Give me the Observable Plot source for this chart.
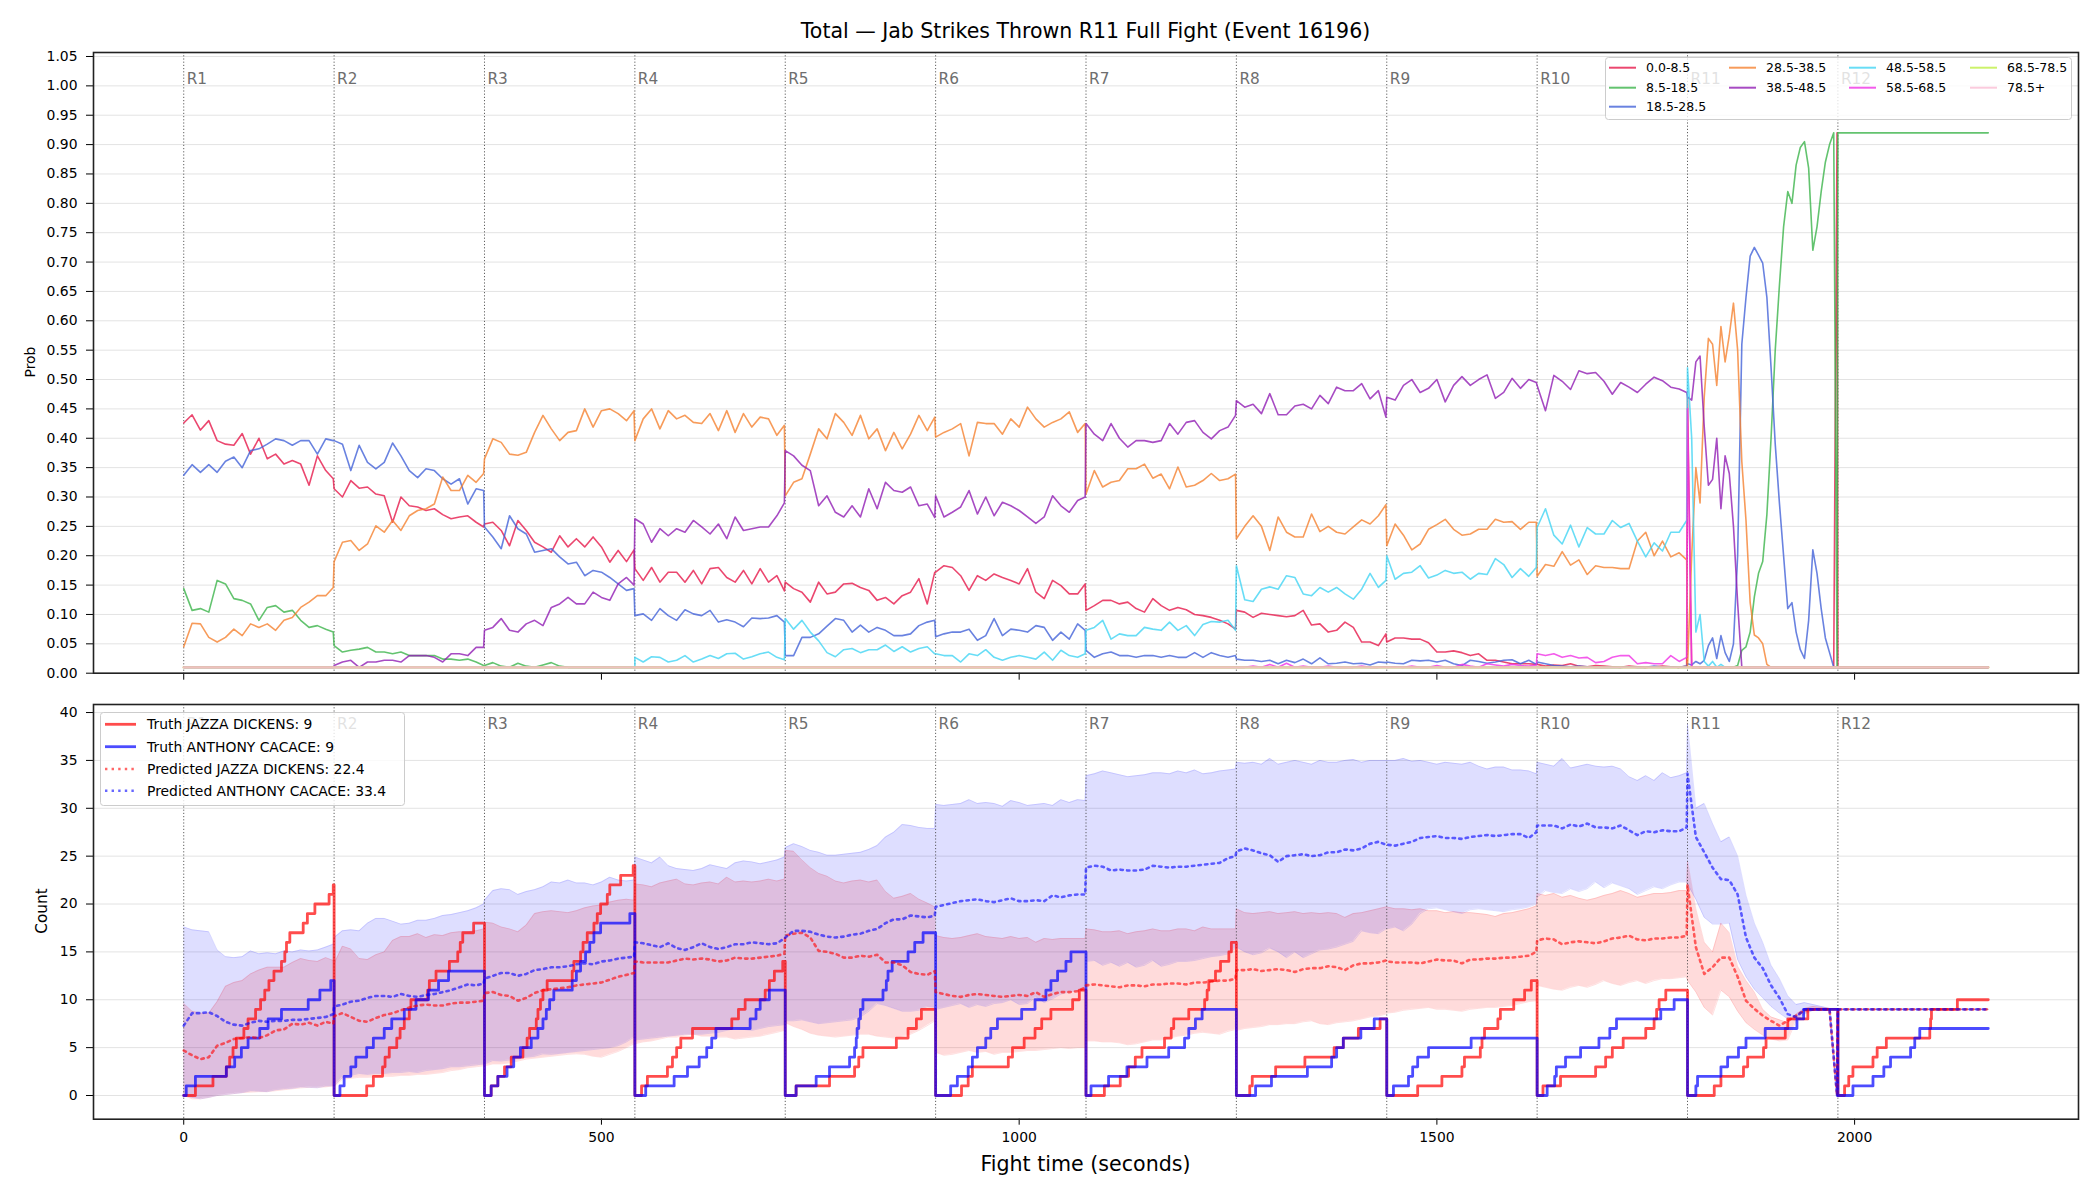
<!DOCTYPE html>
<html><head><meta charset="utf-8">
<script src="https://cdn.jsdelivr.net/npm/d3@7"></script>
<script src="https://cdn.jsdelivr.net/npm/@observablehq/plot@0.6"></script>
<style>
body{margin:0;background:#fff;}
#fig{position:relative;width:2100px;height:1200px;background:#fff;font-family:"DejaVu Sans",sans-serif;overflow:hidden;}
.abs{position:absolute;white-space:nowrap;color:#000;}
#fig svg{position:absolute;overflow:visible;}
</style></head><body><div id="fig"></div>
<script>
// ---------- shared ----------
const ROUND_STARTS = [0,180,360,540,720,900,1080,1260,1440,1620,1800,1980];
const ROUND_LABELS = ["R1","R2","R3","R4","R5","R6","R7","R8","R9","R10","R11","R12"];
const FIGHT_END = 2160;
const OFFS_10 = [0,10,20,30,40,50,60,70,80,90,100,110,120,130,140,150,160,170,179];
const OFFS_5 = [0,5,10,15,20,25,30,35,40,45,50,55,60,65,70,75,80,85,90,95,100,105,110,115,120,125,130,135,140,145,150,155,160,165,170,175,179];
const OFFS_FLAT = [0,180];
const X_TICKS = [0,500,1000,1500,2000];
const TOP_Y_TICKS = [0,0.05,0.1,0.15,0.2,0.25,0.3,0.35,0.4,0.45,0.5,0.55,0.6,0.65,0.7,0.75,0.8,0.85,0.9,0.95,1.0,1.05];
const BOT_Y_TICKS = [0,5,10,15,20,25,30,35,40];

// ---------- top panel: probability per bin (one array per round) ----------
const BIN_LABELS = ["0.0-8.5","8.5-18.5","18.5-28.5","28.5-38.5","38.5-48.5","48.5-58.5","58.5-68.5","68.5-78.5","78.5+"];
const BIN_COLORS = ["#e6194B","#3cb44b","#4363d8","#f58231","#911eb4","#42d4f4","#f032e6","#bfef45","#fabed4"];

const BIN_0_8 = [
 [0.426,0.44,0.414,0.43,0.396,0.39,0.388,0.408,0.373,0.40,0.365,0.373,0.356,0.362,0.356,0.32,0.37,0.345,0.331],
 [0.314,0.30,0.328,0.315,0.317,0.305,0.302,0.257,0.30,0.285,0.283,0.277,0.28,0.27,0.263,0.266,0.268,0.257,0.249],
 [0.254,0.257,0.243,0.217,0.26,0.243,0.223,0.215,0.206,0.234,0.215,0.229,0.215,0.232,0.215,0.189,0.209,0.19,0.21],
 [0.178,0.158,0.18,0.155,0.172,0.172,0.155,0.175,0.152,0.178,0.18,0.163,0.155,0.175,0.152,0.178,0.155,0.166,0.14],
 [0.155,0.144,0.138,0.121,0.155,0.135,0.138,0.152,0.153,0.146,0.141,0.124,0.129,0.118,0.132,0.138,0.161,0.118,0.172],
 [0.172,0.183,0.18,0.166,0.141,0.166,0.158,0.169,0.163,0.158,0.152,0.178,0.138,0.127,0.158,0.149,0.135,0.135,0.152],
 [0.107,0.115,0.124,0.124,0.118,0.121,0.11,0.104,0.127,0.115,0.107,0.112,0.108,0.1,0.098,0.095,0.09,0.084,0.075],
 [0.107,0.104,0.095,0.102,0.1,0.098,0.096,0.098,0.107,0.082,0.084,0.07,0.073,0.087,0.078,0.053,0.053,0.047,0.067],
 [0.053,0.06,0.06,0.058,0.058,0.052,0.036,0.036,0.038,0.035,0.03,0.033,0.022,0.022,0.019,0.016,0.016,0.016,0.015],
 [0.015,0.012,0.014,0.013,0.016,0.012,0.011,0.013,0.012,0.011,0.01,0.012,0.011,0.01,0.011,0.012,0.011,0.01,0.012],
 [0.47,
  0.01,0.01,0.01,0.01,0.01, 0.01,0.01,0.01,0.01,0.01, 0.01,0.01,0.01,0.01,0.01, 0.01,0.01,0.01,0.01,0.01,
  0.01,0.01,0.01,0.01,0.01, 0.01,0.01,0.01,0.01,0.01, 0.01,0.01,0.01,0.01,0.01,
  0.92],
 [0.01,0.01]
];
const BIN_8_18 = [
 [0.144,0.107,0.11,0.104,0.158,0.152,0.127,0.124,0.118,0.09,0.112,0.115,0.104,0.107,0.09,0.078,0.081,0.075,0.07],
 [0.047,0.036,0.039,0.041,0.044,0.036,0.036,0.033,0.036,0.03,0.03,0.03,0.03,0.024,0.024,0.022,0.024,0.019,0.013],
 [0.013,0.018,0.012,0.01,0.017,0.012,0.01,0.014,0.018,0.012,0.01,0.01,0.01,0.01,0.01,0.01,0.01,0.01,0.01],
 [0.01,0.01],[0.01,0.01],[0.01,0.01],[0.01,0.01],[0.01,0.01],[0.01,0.01],[0.01,0.01],
 [0.01,0.01,0.01,0.01,0.01, 0.01,0.01,0.01,0.01,0.01, 0.01,0.01,
  0.013,0.039,0.045,0.07,0.13,0.17,0.19,0.27,0.4,0.55,0.66,0.76,0.82,0.8,0.865,0.895,0.905,0.86,0.72,0.76,0.82,0.87,0.9,0.92,0.01],
 [0.92,0.92]
];
const BIN_18_28 = [
 [0.337,0.355,0.342,0.355,0.342,0.361,0.368,0.35,0.379,0.382,0.39,0.399,0.396,0.388,0.396,0.396,0.373,0.399,0.396],
 [0.396,0.39,0.345,0.388,0.359,0.348,0.359,0.392,0.37,0.345,0.333,0.348,0.345,0.331,0.322,0.331,0.288,0.314,0.311],
 [0.249,0.232,0.212,0.268,0.246,0.237,0.206,0.209,0.212,0.198,0.186,0.189,0.166,0.175,0.172,0.163,0.152,0.141,0.144],
 [0.098,0.101,0.09,0.11,0.098,0.09,0.108,0.101,0.098,0.107,0.087,0.091,0.087,0.079,0.094,0.093,0.094,0.098,0.087],
 [0.03,0.03,0.061,0.061,0.067,0.08,0.093,0.09,0.07,0.082,0.07,0.078,0.073,0.064,0.064,0.067,0.081,0.087,0.09],
 [0.062,0.067,0.07,0.07,0.075,0.056,0.064,0.093,0.064,0.075,0.073,0.07,0.081,0.078,0.056,0.07,0.058,0.084,0.073],
 [0.039,0.027,0.033,0.036,0.03,0.03,0.027,0.03,0.03,0.027,0.03,0.027,0.027,0.035,0.027,0.035,0.03,0.027,0.03],
 [0.024,0.022,0.022,0.02,0.022,0.016,0.022,0.018,0.024,0.016,0.026,0.016,0.017,0.019,0.016,0.017,0.014,0.019,0.018],
 [0.019,0.017,0.016,0.022,0.021,0.022,0.019,0.022,0.016,0.013,0.022,0.02,0.017,0.019,0.022,0.023,0.016,0.022,0.015],
 [0.019,0.016,0.013,0.012,0.011,0.012,0.011,0.01,0.01,0.01,0.01,0.011,0.01,0.01,0.012,0.01,0.011,0.01,0.012],
 [0.016,0.014,0.02,0.016,0.022,0.047,0.06,0.025,0.064,0.035,0.02,0.05,0.2,0.56,0.64,0.71,0.725,0.712,0.698,0.64,0.52,0.39,0.29,0.2,0.11,0.12,0.07,0.04,0.025,0.09,0.21,0.17,0.11,0.06,0.035,0.01,0.01],
 [0.01,0.01]
];
const BIN_28_38 = [
 [0.045,0.085,0.084,0.061,0.053,0.061,0.075,0.064,0.084,0.078,0.084,0.073,0.09,0.095,0.112,0.121,0.132,0.132,0.146],
 [0.19,0.223,0.226,0.209,0.22,0.251,0.24,0.26,0.243,0.268,0.277,0.28,0.288,0.334,0.311,0.311,0.337,0.325,0.34],
 [0.365,0.399,0.393,0.373,0.371,0.376,0.41,0.439,0.416,0.396,0.41,0.413,0.45,0.419,0.447,0.45,0.442,0.43,0.447],
 [0.396,0.433,0.45,0.416,0.447,0.433,0.439,0.427,0.425,0.442,0.413,0.447,0.41,0.442,0.419,0.436,0.433,0.405,0.422],
 [0.302,0.325,0.331,0.373,0.416,0.399,0.442,0.427,0.405,0.439,0.399,0.416,0.379,0.41,0.382,0.407,0.439,0.413,0.436],
 [0.402,0.41,0.416,0.425,0.37,0.427,0.425,0.425,0.407,0.433,0.419,0.453,0.433,0.419,0.427,0.433,0.445,0.41,0.425],
 [0.305,0.345,0.317,0.325,0.328,0.348,0.348,0.356,0.332,0.339,0.314,0.351,0.317,0.32,0.328,0.34,0.328,0.331,0.339],
 [0.229,0.25,0.268,0.25,0.209,0.266,0.24,0.232,0.232,0.271,0.241,0.25,0.24,0.237,0.249,0.261,0.254,0.268,0.287],
 [0.217,0.254,0.235,0.21,0.22,0.245,0.253,0.262,0.245,0.235,0.237,0.245,0.245,0.262,0.257,0.258,0.245,0.257,0.257],
 [0.165,0.185,0.182,0.207,0.184,0.193,0.168,0.183,0.18,0.18,0.178,0.178,0.225,0.24,0.2,0.225,0.198,0.205,0.193],
 [0.01,0.2,0.35,0.29,0.47,0.57,0.56,0.49,0.59,0.53,0.575,0.63,0.55,0.36,0.26,0.12,0.065,0.06,0.05,0.015,
  0.01,0.01,0.01,0.01,0.01, 0.01,0.01,0.01,0.01,0.01, 0.01,0.01,0.01,0.01,0.01, 0.01,0.01],
 [0.01,0.01]
];
const BIN_38_48 = [
 [0.01,0.01],
 [0.013,0.019,0.022,0.01,0.019,0.019,0.022,0.022,0.019,0.03,0.03,0.03,0.027,0.019,0.033,0.033,0.03,0.044,0.044],
 [0.073,0.078,0.093,0.073,0.07,0.084,0.09,0.081,0.112,0.118,0.129,0.118,0.118,0.138,0.129,0.124,0.152,0.163,0.15],
 [0.263,0.254,0.223,0.246,0.234,0.246,0.24,0.26,0.249,0.237,0.254,0.229,0.266,0.243,0.246,0.249,0.249,0.268,0.29],
 [0.379,0.37,0.354,0.345,0.285,0.302,0.274,0.266,0.285,0.266,0.314,0.28,0.325,0.311,0.308,0.317,0.285,0.288,0.265],
 [0.302,0.266,0.274,0.283,0.311,0.271,0.3,0.268,0.291,0.285,0.277,0.266,0.255,0.266,0.302,0.285,0.274,0.294,0.3],
 [0.425,0.407,0.396,0.425,0.40,0.385,0.396,0.396,0.393,0.396,0.425,0.407,0.427,0.43,0.41,0.399,0.413,0.419,0.439],
 [0.464,0.453,0.458,0.442,0.476,0.44,0.44,0.455,0.458,0.45,0.473,0.459,0.487,0.481,0.481,0.493,0.467,0.481,0.436],
 [0.47,0.465,0.49,0.5,0.478,0.485,0.5,0.462,0.49,0.505,0.49,0.5,0.508,0.468,0.478,0.502,0.485,0.5,0.495],
 [0.49,0.447,0.507,0.497,0.483,0.515,0.51,0.512,0.497,0.475,0.495,0.487,0.478,0.492,0.504,0.498,0.487,0.484,0.478],
 [0.47,0.465,0.53,0.54,0.42,0.32,0.33,0.40,0.28,0.37,0.34,0.25,0.12,0.01,
  0.01,0.01,0.01,0.01,0.01, 0.01,0.01,0.01,0.01,0.01, 0.01,0.01,0.01,0.01,0.01, 0.01,0.01,0.01,0.01,0.01, 0.01,0.01,0.01],
 [0.01,0.01]
];
const BIN_48_58 = [
 [0.01,0.01],[0.01,0.01],[0.01,0.01],
 [0.027,0.019,0.028,0.027,0.019,0.022,0.03,0.019,0.024,0.03,0.025,0.033,0.034,0.024,0.028,0.033,0.036,0.027,0.023],
 [0.093,0.075,0.09,0.07,0.055,0.035,0.028,0.04,0.042,0.035,0.04,0.04,0.048,0.037,0.045,0.036,0.042,0.045,0.033],
 [0.033,0.03,0.03,0.019,0.033,0.03,0.04,0.027,0.022,0.027,0.03,0.027,0.024,0.036,0.022,0.039,0.03,0.027,0.033],
 [0.073,0.078,0.09,0.058,0.067,0.064,0.064,0.078,0.075,0.073,0.087,0.073,0.081,0.064,0.083,0.088,0.087,0.09,0.073],
 [0.183,0.125,0.122,0.143,0.147,0.143,0.166,0.163,0.135,0.132,0.146,0.138,0.146,0.135,0.126,0.143,0.17,0.146,0.158],
 [0.2,0.16,0.17,0.172,0.183,0.162,0.167,0.175,0.17,0.172,0.16,0.17,0.168,0.195,0.185,0.163,0.178,0.165,0.18],
 [0.248,0.28,0.235,0.22,0.252,0.215,0.248,0.237,0.237,0.26,0.248,0.255,0.225,0.198,0.222,0.208,0.24,0.24,0.26],
 [0.52,0.4,0.07,0.1,0.02,0.012,0.02,0.01,0.015,
  0.01,0.01,0.01,0.01,0.01, 0.01,0.01,0.01,0.01,0.01, 0.01,0.01,0.01,0.01,0.01, 0.01,0.01,0.01,0.01,0.01,
  0.01,0.01,0.01,0.01,0.01, 0.01,0.01,0.01],
 [0.01,0.01]
];
const BIN_58_68 = [
 [0.01,0.01],[0.01,0.01],[0.01,0.01],[0.01,0.01],[0.01,0.01],[0.01,0.01],[0.01,0.01],
 [0.01,0.01,0.012,0.01,0.015,0.01,0.017,0.01,0.012,0.01,0.01,0.012,0.01,0.01,0.01,0.012,0.01,0.01,0.011],
 [0.01,0.011,0.01,0.012,0.01,0.01,0.013,0.01,0.01,0.015,0.012,0.01,0.016,0.014,0.012,0.015,0.013,0.012,0.014],
 [0.033,0.03,0.033,0.027,0.03,0.026,0.027,0.018,0.02,0.027,0.03,0.03,0.016,0.018,0.016,0.016,0.03,0.02,0.027],
 [0.45,
  0.01,0.01,0.01,0.01,0.01, 0.01,0.01,0.01,0.01,0.01, 0.01,0.01,0.01,0.01,0.01, 0.01,0.01,0.01,0.01,0.01,
  0.01,0.01,0.01,0.01,0.01, 0.01,0.01,0.01,0.01,0.01, 0.01,0.01,0.01,0.01,0.01, 0.01],
 [0.01,0.01]
];
const BIN_68_78 = [[0.01,0.01],[0.01,0.01],[0.01,0.01],[0.01,0.01],[0.01,0.01],[0.01,0.01],[0.01,0.01],[0.01,0.01],[0.01,0.01],[0.01,0.01],[0.01,0.01],[0.01,0.01]];
const BIN_78_UP = [[0.01,0.01],[0.01,0.01],[0.01,0.01],[0.01,0.01],[0.01,0.01],[0.01,0.01],[0.01,0.01],[0.01,0.01],[0.01,0.01],[0.01,0.01],[0.01,0.01],[0.01,0.01]];

// ---------- bottom panel ----------
const FIGHTER_RED = "JAZZA DICKENS";
const FIGHTER_BLUE = "ANTHONY CACACE";
const LEGEND_TRUTH_RED = 9, LEGEND_TRUTH_BLUE = 9, LEGEND_PRED_RED = 22.4, LEGEND_PRED_BLUE = 33.4;

// jab times (seconds into each round) — truth counts
const RED_JABS = [
 [14,35,51,55,59,63,72,77,86,92,97,102,108,117,121,123,127,143,148,157,174,179],
 [39,47,58,61,66,75,79,84,90,92,112,114,122,138,148,151,154,167],
 [8,16,24,32,46,51,54,62,64,67,70,75,105,107,115,118,123,131,135,139,147,150,163,178],
 [8,15,39,45,50,55,69,116,124,132,156,161,167,177],
 [13,53,83,88,93,133,147,157,163],
 [31,39,44,87,92,106,119,127,138,164,172],
 [22,41,51,59,67,94,102,105,123,142,145,147,155,161,171,174],
 [16,19,47,82,117,128,146,172],
 [37,66,90,93,112,114,117,133,136,152,165,173],
 [7,28,70,82,90,103,130,140,143,146,154],
 [32,40,67,72,91,94,117,120,144],
 [8,13,18,42,47,58,110,111,112,143]
];
const BLUE_JABS = [
 [3,14,51,61,69,77,91,101,117,149,163,176],
 [7,12,20,26,39,47,60,69,84,98,113,125,137],
 [8,16,27,35,43,56,64,70,74,78,83,105,110,115,121,126,131,139,174],
 [13,47,63,77,86,92,97,138,145,150,161],
 [13,37,53,77,83,85,86,88,90,93,117,121,123,128,147,155,165],
 [18,26,39,44,50,60,66,74,103,119,132,138,146,156,162],
 [6,27,49,73,99,118,123,131,139],
 [23,42,85,114,120,128,149,165],
 [8,26,31,37,50,101],
 [12,21,23,34,52,74,87,95,148,164],
 [10,12,40,48,61,70,93,131,139],
 [18,42,55,63,87,92,98]
];

const PRED_RED = [
 [4.7,4.2,3.8,4.0,5.2,5.5,5.9,6.0,6.1,6.0,6.3,6.8,6.9,7.5,7.4,7.6,7.3,7.7,7.5],
 [8.3,8.6,8.2,7.8,7.7,8.1,8.4,8.6,8.9,9.2,9.4,9.5,9.4,9.4,9.6,9.7,9.7,9.8,9.9],
 [10.7,10.8,10.5,10.4,9.9,10.2,10.7,11.0,11.1,11.2,11.3,11.5,11.6,11.7,11.8,12.1,12.4,12.6,12.8],
 [14.0,13.9,13.9,13.9,13.9,14.1,14.3,14.2,14.3,14.2,14.0,14.1,14.4,14.3,14.3,14.4,14.5,14.6,14.8],
 [16.7,16.9,17.0,16.5,15.1,15.0,14.8,14.4,14.4,14.6,14.5,14.7,13.9,13.9,13.6,12.9,12.7,12.6,13.0],
 [10.8,10.6,10.4,10.3,10.5,10.6,10.5,10.4,10.3,10.4,10.5,10.4,10.8,10.3,10.6,10.8,10.8,10.9,11.3],
 [11.5,11.6,11.5,11.4,11.3,11.5,11.5,11.4,11.6,11.6,11.7,11.7,11.6,11.8,11.8,11.9,12.0,12.0,12.2],
 [13.1,13.1,13.2,13.0,13.1,13.2,13.1,12.9,13.2,13.3,13.3,13.5,13.4,13.1,13.6,13.8,13.8,13.9,14.1],
 [14.0,13.9,13.9,13.9,13.8,14.0,14.2,14.1,14.1,13.8,14.2,14.2,14.3,14.3,14.4,14.4,14.5,14.6,15.0],
 [16.2,16.4,16.3,15.8,16.0,16.1,16.0,15.9,16.1,16.4,16.5,16.7,16.3,16.2,16.4,16.4,16.5,16.5,16.7],
 [22.0,15.5,12.7,13.4,14.4,14.4,12.4,9.9,9.05,8.35,7.8,7.3,7.8,8.35,8.9,9.0,9.0,9.0,0],
 [9,9]
];
const PRED_BLUE = [
 [7.3,8.6,8.6,8.7,8.3,7.7,7.4,7.3,7.6,7.8,7.7,7.8,7.8,7.9,7.9,8.0,8.1,8.2,8.5],
 [9.3,9.5,9.8,9.9,10.2,10.4,10.4,10.3,10.6,10.4,10.3,10.5,10.6,10.8,11.0,11.3,11.6,11.5,11.7],
 [12.2,12.5,12.8,12.8,12.5,12.7,13.1,13.2,13.4,13.4,13.5,13.7,13.8,13.7,14.0,14.1,14.3,14.4,14.5],
 [16.0,15.9,15.7,15.5,15.9,15.4,15.2,15.5,15.9,15.5,15.3,15.5,15.8,15.8,16.0,15.9,15.8,15.9,16.4],
 [16.5,17.2,17.2,17.1,16.8,16.6,16.5,16.6,16.8,16.9,17.2,17.4,18.0,18.4,18.4,18.8,18.7,18.6,18.8],
 [19.7,19.9,20.1,20.3,20.4,20.5,20.3,20.2,20.4,20.6,20.3,20.3,20.4,20.3,20.9,20.7,20.9,21.0,21.0],
 [23.8,24.0,23.9,23.5,23.6,23.5,23.5,23.6,24.0,23.9,23.8,23.9,23.9,24.0,24.1,24.2,24.3,24.8,25.0],
 [25.5,25.8,25.6,25.3,25.1,24.4,25.0,25.1,25.2,25.0,25.1,25.4,25.4,25.7,25.6,25.8,26.3,26.5,26.2],
 [26.2,26.1,26.3,26.5,26.9,27.0,27.1,26.9,26.9,26.8,27.0,27.1,27.2,27.1,27.2,27.3,27.3,26.9,27.5],
 [28.2,28.2,28.2,27.9,28.3,28.1,28.4,28.0,28.0,27.9,28.2,27.7,27.2,27.6,27.5,27.7,27.6,27.6,28.0],
 [33.6,27.0,25.4,23.8,22.6,22.5,21.0,16.5,14.4,13.3,11.5,10.2,8.5,8.2,9.0,9.0,9.0,9.0,0],
 [9,9]
];
const BAND_BLUE_LO = [
 [0,-0.2,-0.35,-0.2,0,0.1,0.2,0.3,0.5,0.45,0.4,0.6,0.7,0.75,0.9,0.85,0.8,1.0,1.0],
 [1.0,1.9,2.1,2.3,2.2,2.3,2.3,2.4,2.4,2.5,2.4,2.6,2.7,2.8,3.0,3.0,3.1,3.2,3.3],
 [3.3,3.65,3.6,3.7,3.9,4.0,4.1,4.35,4.3,4.4,4.5,4.6,4.7,4.8,4.9,5.0,5.2,5.6,6.1],
 [5.8,5.9,6.0,6.1,6.2,6.3,6.4,6.4,6.4,6.5,6.6,6.8,7.0,6.9,6.8,7.0,7.2,7.3,7.4],
 [7.8,7.8,7.9,7.7,7.5,7.6,7.7,7.8,7.9,8.2,8.8,9.6,9.4,9.1,8.8,8.8,8.9,9.3,9.2],
 [9.0,9.2,9.4,9.6,9.2,9.5,9.3,9.6,9.7,10.0,9.5,9.6,10.3,9.7,10.1,10.6,10.8,11.0,11.2],
 [14.0,14.1,13.6,13.9,13.5,13.9,13.4,13.6,14.1,13.5,13.7,14.0,14.0,14.1,14.3,14.5,14.6,14.8,15.4],
 [15.5,15.0,14.7,14.9,15.4,15.0,14.4,15.0,14.4,14.8,15.2,15.3,15.5,15.8,16.1,17.2,17.0,16.9,17.4],
 [17.4,17.6,17.2,17.9,19.0,19.5,19.6,19.4,19.2,19.0,19.4,19.5,19.4,19.3,19.2,19.4,19.5,19.7,20.0],
 [20.7,21.4,21.2,21.1,21.6,21.3,21.6,22.3,21.7,22.2,21.9,21.6,21.0,21.4,21.8,21.6,22.0,22.3,22.3],
 [22.1,20.5,18.6,17.9,17.9,18.0,14.2,12.4,11.1,10.2,9.3,8.6,8.0,7.8,8.5,8.9,9.0,9.0,9.0],
 [9,9]
];
const BAND_BLUE_HI = [
 [17.6,17.3,17.2,17.1,15.2,14.5,14.4,14.5,15.1,14.8,14.9,14.8,15.1,15.0,15.2,15.1,15.2,15.5,15.8],
 [16.5,17.2,17.3,17.2,18.0,18.5,18.5,18.2,17.9,18.0,18.3,18.3,18.5,18.8,18.9,19.1,19.3,19.6,20.0],
 [20.4,21.4,21.6,21.5,21.0,21.3,21.5,21.8,22.3,22.2,22.5,22.2,22.2,22.0,22.3,22.8,22.5,22.4,22.5],
 [24.9,24.6,24.3,24.9,24.0,23.7,23.6,23.5,23.7,24.1,23.9,23.7,24.3,24.5,24.4,24.2,24.4,24.6,24.9],
 [25.9,26.3,26.0,25.6,25.4,25.1,25.1,25.2,25.3,25.4,25.7,26.1,27.0,27.5,28.3,28.2,28.0,27.9,27.9],
 [30.4,30.3,30.4,30.5,30.9,30.5,30.6,30.5,30.2,30.8,30.6,30.3,30.4,30.5,30.3,30.9,30.6,30.9,30.8],
 [33.4,33.6,33.9,33.7,33.5,33.3,33.4,33.5,33.7,33.7,33.6,33.9,33.7,34.0,33.6,33.7,33.9,34.0,34.1],
 [34.8,34.7,34.8,34.6,35.2,34.6,34.8,35.0,34.8,34.6,35.0,34.8,34.8,35.0,35.1,34.8,35.0,35.0,35.0],
 [35.0,35.0,35.2,34.9,35.0,34.8,34.6,34.8,34.7,34.6,34.8,34.4,34.1,34.3,34.3,34.0,34.0,33.9,33.6],
 [34.8,34.6,34.4,35.2,34.2,34.4,34.6,34.4,34.3,34.4,34.1,33.3,32.9,33.4,32.9,33.7,33.2,33.4,33.7],
 [38.8,30.0,30.5,28.4,26.5,27.0,25.0,20.9,18.0,16.0,13.6,12.2,10.4,9.5,9.7,9.5,9.3,9.1,9.1],
 [9,9]
];
const BAND_RED_LO = [
 [0,-0.35,-0.35,-0.2,0,0.1,0.2,0.3,0.35,0.4,0.4,0.5,0.6,0.7,0.8,0.85,0.85,0.9,1.0],
 [0.9,1.7,1.8,1.9,1.9,1.95,2.0,2.0,2.1,2.1,2.2,2.2,2.3,2.4,2.6,2.7,2.9,3.0,3.1],
 [3.1,3.3,3.3,3.4,3.6,3.8,3.9,4.0,4.1,4.2,4.3,4.35,4.3,4.1,4.0,4.3,4.6,5.0,5.4],
 [5.4,5.6,5.7,5.9,6.1,6.1,6.3,6.4,6.2,6.2,6.1,6.1,5.9,6.0,6.1,6.2,6.4,6.6,6.8],
 [7.6,7.2,6.9,6.5,6.3,6.2,6.1,6.2,6.3,6.4,6.4,6.2,6.1,6.0,6.2,6.4,6.8,7.3,7.8],
 [4.5,4.2,4.3,4.5,4.7,4.5,4.6,4.3,4.5,4.5,4.6,4.7,4.7,4.8,4.9,5.0,4.9,5.0,5.0],
 [5.7,5.7,5.6,5.6,5.5,5.3,5.4,5.6,5.8,5.8,6.0,6.2,6.3,6.5,6.6,6.5,6.4,6.7,6.9],
 [6.8,7.0,7.1,7.2,7.4,7.4,7.5,7.5,7.7,7.8,7.5,7.4,7.6,7.7,7.8,8.0,8.2,8.3,8.5],
 [8.6,8.7,8.9,9.0,9.1,9.2,9.0,9.0,8.9,8.8,9.0,9.1,9.2,9.2,9.3,9.4,9.6,9.8,9.9],
 [11.5,11.3,11.1,11.0,11.3,11.5,11.3,11.6,12.0,11.7,11.5,11.8,12.0,11.7,12.0,12.2,12.2,12.3,12.4],
 [12.0,10.8,9.2,8.4,11.0,10.3,8.8,7.6,6.9,6.3,5.9,5.7,5.8,7.8,8.6,8.9,9.0,9.0,9.0],
 [9,9]
];
const BAND_RED_HI = [
 [9.6,8.8,8.6,8.6,9.8,11.4,11.8,12.0,12.7,13.1,13.4,13.4,13.4,13.9,14.3,14.1,14.0,14.4,14.1],
 [13.75,15.6,15.3,14.3,14.2,14.7,15.0,16.2,16.6,16.6,16.9,16.5,16.8,16.7,17.0,17.1,17.1,17.2,17.4],
 [18.1,18.0,17.6,17.4,17.1,17.8,19.0,19.2,19.3,19.2,19.1,19.3,19.6,19.8,19.9,20.2,20.4,20.5,20.4],
 [22.1,22.0,21.8,22.2,22.4,22.6,22.1,22.0,22.2,22.3,22.1,22.8,22.3,22.4,22.3,22.4,22.6,22.4,22.6],
 [25.6,25.5,24.6,23.8,23.2,22.9,22.4,22.2,22.4,22.5,22.3,22.5,21.3,20.6,20.8,21.1,20.5,20.1,19.7],
 [16.7,16.5,16.4,16.5,16.7,16.9,16.6,16.5,16.4,16.6,16.4,16.5,16.0,16.4,16.3,16.4,16.4,16.4,16.4],
 [17.4,17.3,17.1,17.1,17.2,16.9,17.1,17.2,17.4,17.2,17.2,17.4,17.4,17.2,17.6,17.4,17.4,17.4,17.4],
 [19.5,19.1,19.0,19.1,19.2,19.0,19.1,19.2,19.0,19.1,19.0,19.1,19.0,18.6,19.0,19.1,19.3,19.5,19.7],
 [19.7,19.5,19.5,19.4,19.5,19.3,19.3,19.1,19.2,19.1,19.1,19.0,18.9,18.7,19.0,19.1,19.3,19.5,19.8],
 [21.1,20.9,21.1,20.7,20.9,20.6,20.4,20.6,20.9,21.1,21.4,21.1,20.7,20.9,21.1,21.1,21.2,21.4,21.4],
 [24.5,19.5,16.0,15.0,18.0,17.0,13.5,12.0,10.8,9.0,8.2,7.9,7.6,8.5,9.1,9.3,9.2,9.1,9.1],
 [9,9]
];

// ---------- helpers ----------
function offsetsFor(n) {
  if (n === 19) return OFFS_10;
  if (n === 37) return OFFS_5;
  if (n === 2) return OFFS_FLAT;
  throw new Error("bad round length " + n);
}
function toRows(perRound) {
  const rows = [];
  perRound.forEach((vals, r) => {
    const offs = offsetsFor(vals.length);
    vals.forEach((v, i) => rows.push({t: ROUND_STARTS[r] + offs[i], v}));
  });
  return rows;
}
function bandRows(lo, hi) {
  const rows = [];
  lo.forEach((vals, r) => {
    const offs = offsetsFor(vals.length);
    vals.forEach((v, i) => rows.push({t: ROUND_STARTS[r] + offs[i], lo: v, hi: hi[r][i]}));
  });
  return rows;
}
function truthRows(jabs) {
  const rows = [];
  let last = 0;
  jabs.forEach((times, r) => {
    rows.push({t: ROUND_STARTS[r], c: 0});
    times.forEach((e, i) => rows.push({t: ROUND_STARTS[r] + e, c: i + 1}));
    last = times.length;
  });
  rows.push({t: FIGHT_END, c: last});
  return rows;
}

const fig = document.getElementById("fig");
const FONT = "DejaVu Sans";

// ---------- top plot ----------
const BINS = [BIN_0_8, BIN_8_18, BIN_18_28, BIN_28_38, BIN_38_48, BIN_48_58, BIN_58_68, BIN_68_78, BIN_78_UP];
const topLines = BINS.map((b, i) => Plot.line(toRows(b), {
  x: "t", y: "v", stroke: BIN_COLORS[i], strokeOpacity: 0.8, strokeWidth: i >= 7 ? 2.4 : 1.6
}));

const topPlot = Plot.plot({
  width: 2100, height: 690,
  marginLeft: 93, marginRight: 22, marginTop: 52, marginBottom: 17.3,
  style: {fontFamily: FONT, fontSize: "13.9px", color: "#000", background: "transparent"},
  x: {domain: [-108, 2268], label: null},
  y: {domain: [0, 1.0568], label: null},
  marks: [
    Plot.gridY(TOP_Y_TICKS, {stroke: "#e3e3e3", strokeOpacity: 1, strokeWidth: 1}),
    Plot.ruleX(ROUND_STARTS, {stroke: "#444", strokeOpacity: 0.85, strokeWidth: 1, strokeDasharray: "1.2,2"}),
    ...topLines,
    Plot.text(ROUND_LABELS, {x: (d, i) => ROUND_STARTS[i], y: 1.012, text: d => d, textAnchor: "start", dx: 3,
      fill: "#6e6e6e", fontSize: 15.3, fontFamily: FONT}),
    Plot.axisY({ticks: TOP_Y_TICKS, tickFormat: d3.format(".2f"), tickSize: 7, tickPadding: 9, label: null}),
    Plot.axisX({ticks: X_TICKS, tickSize: 7, tickFormat: () => "", label: null}),
    Plot.frame({stroke: "#222", strokeWidth: 1.6})
  ]
});
topPlot.style.left = "0px"; topPlot.style.top = "0px";
fig.appendChild(topPlot);

// ---------- bottom plot ----------
const blueBand = bandRows(BAND_BLUE_LO, BAND_BLUE_HI);
const redBand = bandRows(BAND_RED_LO, BAND_RED_HI);
const DOT = "2.4,4.2";

const botPlot = Plot.plot({
  width: 2100, height: 510,
  marginLeft: 93, marginRight: 22, marginTop: 14, marginBottom: 81.3,
  style: {fontFamily: FONT, fontSize: "13.9px", color: "#000", background: "transparent"},
  x: {domain: [-108, 2268], label: null},
  y: {domain: [-2.475, 40.84], label: null},
  marks: [
    Plot.gridY(BOT_Y_TICKS, {stroke: "#e3e3e3", strokeOpacity: 1, strokeWidth: 1}),
    Plot.areaY(redBand, {x: "t", y1: "lo", y2: "hi", fill: "#ff0000", fillOpacity: 0.14}),
    Plot.line(redBand, {x: "t", y: "lo", stroke: "#ff0000", strokeOpacity: 0.12, strokeWidth: 1}),
    Plot.line(redBand, {x: "t", y: "hi", stroke: "#ff0000", strokeOpacity: 0.12, strokeWidth: 1}),
    Plot.areaY(blueBand, {x: "t", y1: "lo", y2: "hi", fill: "#0000ff", fillOpacity: 0.13}),
    Plot.line(blueBand, {x: "t", y: "lo", stroke: "#0000ff", strokeOpacity: 0.12, strokeWidth: 1}),
    Plot.line(blueBand, {x: "t", y: "hi", stroke: "#0000ff", strokeOpacity: 0.12, strokeWidth: 1}),
    Plot.ruleX(ROUND_STARTS, {stroke: "#444", strokeOpacity: 0.85, strokeWidth: 1, strokeDasharray: "1.2,2"}),
    Plot.line(truthRows(RED_JABS), {x: "t", y: "c", curve: "step-after", stroke: "#ff0000", strokeOpacity: 0.7, strokeWidth: 2.8}),
    Plot.line(truthRows(BLUE_JABS), {x: "t", y: "c", curve: "step-after", stroke: "#0000ff", strokeOpacity: 0.7, strokeWidth: 2.8}),
    Plot.line(toRows(PRED_RED), {x: "t", y: "v", stroke: "#ff0000", strokeOpacity: 0.6, strokeWidth: 2.6, strokeDasharray: DOT}),
    Plot.line(toRows(PRED_BLUE), {x: "t", y: "v", stroke: "#0000ff", strokeOpacity: 0.6, strokeWidth: 2.6, strokeDasharray: DOT}),
    Plot.text(ROUND_LABELS, {x: (d, i) => ROUND_STARTS[i], y: 38.8, text: d => d, textAnchor: "start", dx: 3,
      fill: "#6e6e6e", fontSize: 15.3, fontFamily: FONT}),
    Plot.axisY({ticks: BOT_Y_TICKS, tickFormat: d => String(d), tickSize: 7, tickPadding: 9, label: null}),
    Plot.axisX({ticks: X_TICKS, tickFormat: d => String(d), tickSize: 6, tickPadding: 7, label: null}),
    Plot.frame({stroke: "#222", strokeWidth: 1.6})
  ]
});
botPlot.style.left = "0px"; botPlot.style.top = "690px";
fig.appendChild(botPlot);

// ---------- titles ----------
function addText(txt, css) {
  const d = document.createElement("div");
  d.className = "abs"; d.textContent = txt;
  Object.assign(d.style, css);
  fig.appendChild(d);
  return d;
}
addText("Total \u2014 Jab Strikes Thrown R11 Full Fight (Event 16196)", {
  left: "93px", width: "1985px", top: "21px", textAlign: "center", fontSize: "20.5px", lineHeight: "20.5px"});
addText("Fight time (seconds)", {
  left: "93px", width: "1985px", top: "1154px", textAlign: "center", fontSize: "20.6px", lineHeight: "20.6px"});
addText("Prob", {left: "24px", top: "562px", width: "400px", textAlign: "center", fontSize: "13.9px", lineHeight: "13.9px",
  transform: "rotate(-90deg)", transformOrigin: "0 0"});
addText("Count", {left: "35px", top: "1111px", width: "400px", textAlign: "center", fontSize: "15.3px", lineHeight: "15.3px",
  transform: "rotate(-90deg)", transformOrigin: "0 0"});

// ---------- legends ----------
function legendBox(left, top, w, h) {
  const svg = d3.create("svg").attr("width", w + 2).attr("height", h + 2)
    .style("left", left + "px").style("top", top + "px");
  svg.append("rect").attr("x", 0.5).attr("y", 0.5).attr("width", w).attr("height", h).attr("rx", 3)
    .attr("fill", "#fff").attr("fill-opacity", 0.8).attr("stroke", "#cccccc").attr("stroke-width", 1);
  fig.appendChild(svg.node());
  return svg;
}
// top legend (4 columns, column-major)
{
  const svg = legendBox(1605, 57, 466, 62);
  const colX = [4, 124, 244, 365];
  const rowY = [10.7, 30.7, 49.7];
  const layout = [[0,0],[0,1],[0,2],[1,0],[1,1],[2,0],[2,1],[3,0],[3,1]];
  BIN_LABELS.forEach((lab, i) => {
    const [c, r] = layout[i];
    svg.append("line").attr("x1", colX[c]).attr("x2", colX[c] + 27).attr("y1", rowY[r]).attr("y2", rowY[r])
      .attr("stroke", BIN_COLORS[i]).attr("stroke-opacity", 0.8).attr("stroke-width", 2);
    svg.append("text").attr("x", colX[c] + 37).attr("y", rowY[r]).attr("dominant-baseline", "central")
      .attr("font-family", FONT).attr("font-size", "12.5px").attr("fill", "#000").text(lab);
  });
}
// bottom legend
{
  const svg = legendBox(100, 712, 304, 93);
  const items = [
    {label: `Truth ${FIGHTER_RED}: ${LEGEND_TRUTH_RED}`, color: "#ff0000", dash: null},
    {label: `Truth ${FIGHTER_BLUE}: ${LEGEND_TRUTH_BLUE}`, color: "#0000ff", dash: null},
    {label: `Predicted ${FIGHTER_RED}: ${LEGEND_PRED_RED}`, color: "#ff0000", dash: DOT},
    {label: `Predicted ${FIGHTER_BLUE}: ${LEGEND_PRED_BLUE}`, color: "#0000ff", dash: DOT}
  ];
  const rowY = [12.3, 34.7, 57, 78.7];
  items.forEach((it, i) => {
    const ln = svg.append("line").attr("x1", 5).attr("x2", 36).attr("y1", rowY[i]).attr("y2", rowY[i])
      .attr("stroke", it.color);
    if (it.dash) ln.attr("stroke-opacity", 0.6).attr("stroke-width", 2.6).attr("stroke-dasharray", it.dash);
    else ln.attr("stroke-opacity", 0.7).attr("stroke-width", 2.8);
    svg.append("text").attr("x", 47).attr("y", rowY[i]).attr("dominant-baseline", "central")
      .attr("font-family", FONT).attr("font-size", "13.9px").attr("fill", "#000").text(it.label);
  });
}
</script></body></html>
